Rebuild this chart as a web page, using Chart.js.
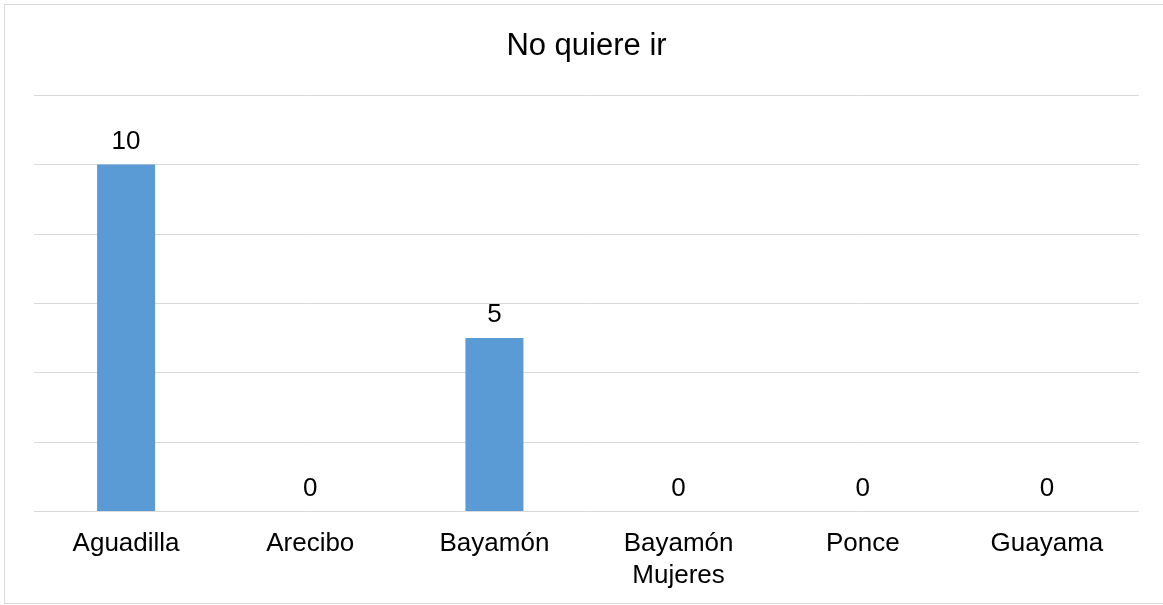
<!DOCTYPE html>
<html>
<head>
<meta charset="utf-8">
<script src="https://cdn.jsdelivr.net/npm/chart.js@4"></script>
<style>
  body { margin: 0; background: #fff; }
  canvas { display: block; }
</style>
</head>
<body>
<canvas id="chart" width="1163" height="605"></canvas>
<script>
const labels = ["Aguadilla", "Arecibo", "Bayamón", ["Bayamón", "Mujeres"], "Ponce", "Guayama"];
const values = [10, 0, 5, 0, 0, 0];
const title = "No quiere ir";

const fontFamily = "'Liberation Sans', Arial, sans-serif";

// outer frame like the spreadsheet chart border
const framePlugin = {
    id: 'frame',
    beforeDraw(chart) {
        const ctx = chart.ctx;
        ctx.save();
        ctx.fillStyle = '#fff';
        ctx.fillRect(0, 0, chart.width, chart.height);
        ctx.strokeStyle = '#d9d9d9';
        ctx.lineWidth = 1;
        ctx.strokeRect(4.5, 4.5, chart.width + 10, 599);
        ctx.restore();
    }
};

// value labels above each bar
const valueLabels = {
    id: 'valueLabels',
    afterDatasetsDraw(chart) {
        const ctx = chart.ctx;
        const meta = chart.getDatasetMeta(0);
        ctx.save();
        ctx.font = '26px ' + fontFamily;
        ctx.fillStyle = '#000';
        ctx.textAlign = 'center';
        ctx.textBaseline = 'alphabetic';
        meta.data.forEach((bar, i) => {
            ctx.fillText(String(values[i]), bar.x, bar.y - 16);
        });
        ctx.restore();
    }
};

const config = {
    type: 'bar',
    data: {
        labels,
        datasets: [
            {
                data: values,
                backgroundColor: '#5b9bd5',
                borderWidth: 0,
                barPercentage: 0.315,
                categoryPercentage: 1,
            }
        ],
    },
    options: {
        responsive: false,
        animation: false,
        layout: {
            padding: { left: 34, right: 24, top: 0, bottom: -3 }
        },
        plugins: {
            legend: { display: false },
            tooltip: { enabled: false },
            title: {
                display: true,
                text: title,
                color: '#000',
                font: { family: fontFamily, size: 31, weight: 'normal' },
                padding: { top: 28, bottom: 30 },
            },
        },
        scales: {
            x: {
                grid: { display: false, drawTicks: false },
                border: { display: false },
                ticks: {
                    color: '#000',
                    padding: 17,
                    maxRotation: 0,
                    autoSkip: false,
                    font: { family: fontFamily, size: 26 },
                },
            },
            y: {
                min: 0,
                max: 12,
                grid: { color: '#d9d9d9', drawTicks: false, lineWidth: 1 },
                border: { display: false },
                ticks: { display: false, stepSize: 2 },
            },
        },
    },
    plugins: [framePlugin, valueLabels],
};

const barChart = new Chart(document.getElementById("chart").getContext("2d"), config);
</script>
</body>
</html>
